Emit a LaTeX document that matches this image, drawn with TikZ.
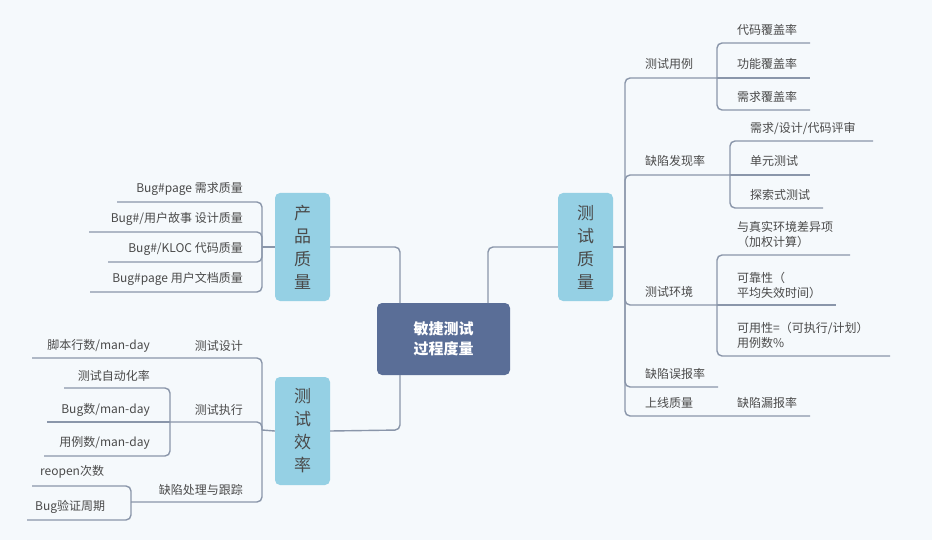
\documentclass[tikz,border=0pt]{standalone}
\usepackage{fontspec}
\setmainfont{Noto Sans CJK SC}
\definecolor{bg}{HTML}{F5F9FC}
\definecolor{ln}{HTML}{8A96AA}
\definecolor{tx}{HTML}{4A4A4A}
\definecolor{lb}{HTML}{95D0E4}
\definecolor{db}{HTML}{5A6E97}
\begin{document}
\begin{tikzpicture}[x=1pt,y=-1pt,
  lnk/.style={draw=ln,line width=1.4pt,rounded corners=5pt},
  lf/.style={anchor=west,text=tx,font=\fontsize{12}{15}\selectfont,inner sep=0pt,align=left},
  lfr/.style={anchor=east,text=tx,font=\fontsize{12}{15}\selectfont,inner sep=0pt},
  sub/.style={fill=lb,rounded corners=5pt,minimum width=55pt,minimum height=108pt,text=tx,font=\fontsize{17}{23}\selectfont,align=center,inner sep=0pt}]
\fill[bg] (0,0) rectangle (932,540);
\useasboundingbox (0,0) rectangle (932,540);
% nodes
\node[fill=db,rounded corners=5pt,minimum width=133pt,minimum height=72pt,text=white,font=\fontsize{15}{20}\selectfont\bfseries,align=center] (c) at (443.5,339) {敏捷测试\\过程度量};
\node[sub] (pq) at (302.5,247) {产\\品\\质\\量};
\node[sub] (te) at (302.5,431) {测\\试\\效\\率};
\node[sub] (tq) at (585.5,247) {测\\试\\质\\量};
% center links
\draw[lnk] (400,303) -- (400,247) -- (pq.east);
\draw[lnk] (400,375) -- (400,430) -- (te.east);
\draw[lnk] (488,303) -- (488,247) -- (tq.west);
% product quality
\draw[lnk] (pq.west) -- (262,247);
\foreach \y/\x in {202/117,232/89,262/108,292/90} \draw[lnk] (262,247) -- (262,\y) -- (\x,\y);
\node[lfr] (p1) at (243,189) {Bug\#page 需求质量};
\node[lfr] (p2) at (243,219) {Bug\#/用户故事 设计质量};
\node[lfr] (p3) at (243,249) {Bug\#/KLOC 代码质量};
\node[lfr] (p4) at (243,279) {Bug\#page 用户文档质量};
% test efficiency
\draw[lnk] (te.west) -- (262,430);
\draw[lnk] (262,430) -- (262,358) -- (32,358);
\draw[lnk] (262,430) -- (262,422) -- (170,422);
\draw[lnk] (262,430) -- (262,502) -- (131,502);
\node[lfr] (e1) at (243,346) {测试设计};
\node[lfr] (e1a) at (150,346) {脚本行数/man-day};
\node[lfr] (e2) at (243,410) {测试执行};
\draw[lnk] (170,422) -- (170,388) -- (64,388);
\draw[lnk] (170,422) -- (47,422);
\draw[lnk] (170,422) -- (170,456) -- (44,456);
\node[lfr] (e2a) at (150,376) {测试自动化率};
\node[lfr] (e2b) at (150,410) {Bug数/man-day};
\node[lfr] (e2c) at (150,443) {用例数/man-day};
\node[lfr] (e3) at (243,490) {缺陷处理与跟踪};
\draw[lnk] (131,502) -- (131,486) -- (32,486);
\draw[lnk] (131,502) -- (131,520) -- (27,520);
\node[lf] (e3a) at (40,472) {reopen次数};
\node[lf] (e3b) at (35,507) {Bug验证周期};
% test quality
\draw[lnk] (tq.east) -- (625,247);
\draw[lnk] (625,247) -- (625,78) -- (717,78);
\draw[lnk] (625,247) -- (625,175) -- (730,175);
\draw[lnk] (625,247) -- (625,305) -- (717,305);
\draw[lnk] (625,247) -- (625,387) -- (718,387);
\draw[lnk] (625,247) -- (625,416) -- (810,416);
\node[lf] (q1) at (645,64) {测试用例};
\draw[lnk] (717,78) -- (717,43) -- (810,43);
\draw[lnk] (717,78) -- (810,78);
\draw[lnk] (717,78) -- (717,110) -- (810,110);
\node[lf] (q1a) at (737,30) {代码覆盖率};
\node[lf] (q1b) at (737,64) {功能覆盖率};
\node[lf] (q1c) at (737,97) {需求覆盖率};
\node[lf] (q2) at (645,161) {缺陷发现率};
\draw[lnk] (730,175) -- (730,141) -- (873,141);
\draw[lnk] (730,175) -- (810,175);
\draw[lnk] (730,175) -- (730,208) -- (823,208);
\node[lf] (q2a) at (750,128) {需求/设计/代码评审};
\node[lf] (q2b) at (750,161) {单元测试};
\node[lf] (q2c) at (750,195) {探索式测试};
\node[lf] (q3) at (645,292) {测试环境};
\draw[lnk] (717,305) -- (717,255) -- (850,255);
\draw[lnk] (717,305) -- (836,305);
\draw[lnk] (717,305) -- (717,356) -- (890,356);
\node[lf] (q3a) at (737,234) {与真实环境差异项\\（加权计算）};
\node[lf] (q3b) at (737,285) {可靠性（\\平均失效时间）};
\node[lf] (q3c) at (737,335) {可用性=（可执行/计划）\\用例数\%};
\node[lf] (q4) at (645,374) {缺陷误报率};
\node[lf] (q5) at (645,403) {上线质量};
\node[lf] (q5a) at (737,403) {缺陷漏报率};
\end{tikzpicture}
\end{document}
